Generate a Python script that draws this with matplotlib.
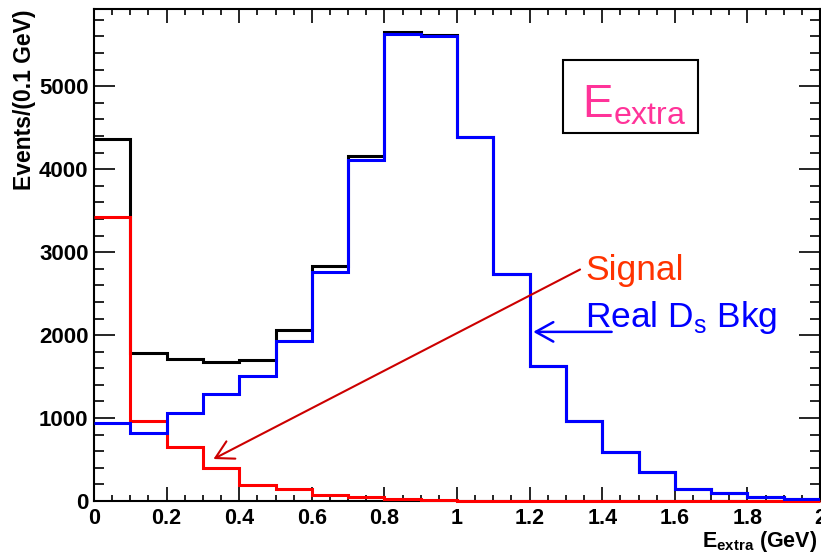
import numpy as np
import matplotlib
matplotlib.use('Agg')
import matplotlib.pyplot as plt
from matplotlib.patches import Rectangle
from matplotlib.ticker import MultipleLocator

plt.rcParams['font.family'] = ['Liberation Sans', 'DejaVu Sans']
plt.rcParams['mathtext.fontset'] = 'custom'
plt.rcParams['mathtext.rm'] = 'Liberation Sans'
plt.rcParams['mathtext.bf'] = 'Liberation Sans:bold'

# E_extra histograms, 0.1 GeV bins from 0 to 2 GeV
bin_edges = np.linspace(0, 2, 21)
total = [4360, 1790, 1710, 1680, 1700, 2060, 2835, 4157, 5654, 5618,
         4390, 2731, 1627, 968, 586, 349, 148, 92, 44, 20]
real_ds = [935, 823, 1057, 1285, 1506, 1928, 2760, 4117, 5635, 5606,
           4389, 2731, 1627, 968, 586, 349, 148, 92, 44, 20]
signal = [3425, 967, 654, 394, 193, 141, 72, 48, 22, 12,
          4, 0, 0, 0, 0, 0, 0, 0, 0, 0]

x_ticks = [0, 0.2, 0.4, 0.6, 0.8, 1.0, 1.2, 1.4, 1.6, 1.8, 2.0]
x_tick_labels = ['0', '0.2', '0.4', '0.6', '0.8', '1', '1.2', '1.4', '1.6', '1.8', '2']
y_ticks = [0, 1000, 2000, 3000, 4000, 5000]
y_tick_labels = ['0', '1000', '2000', '3000', '4000', '5000']

fig = plt.figure(figsize=(8.21, 5.53), dpi=100)
ax = fig.add_axes([94 / 821, 52 / 553, 726 / 821, 492.3 / 553])

ax.stairs(total, bin_edges, color='black', lw=2.2, baseline=None, zorder=3)
ax.stairs(signal, bin_edges, color='#ff0000', lw=2.2, baseline=None,
          zorder=3.2, clip_on=False)
ax.stairs(real_ds, bin_edges, color='#0000ff', lw=2.2, baseline=None, zorder=3.4)

ax.set_xlim(0, 2)
ax.set_ylim(0, 5935)

ax.set_xticks(x_ticks)
ax.set_xticklabels(x_tick_labels, fontweight='bold', fontsize=15.5)
ax.set_yticks(y_ticks)
ax.set_yticklabels(y_tick_labels, fontweight='bold', fontsize=16)
ax.xaxis.set_minor_locator(MultipleLocator(0.05))
ax.yaxis.set_minor_locator(MultipleLocator(200))
ax.tick_params(which='both', direction='in', top=True, right=True, width=1.2)
ax.tick_params(axis='x', which='major', length=10, pad=5)
ax.tick_params(axis='x', which='minor', length=4.5)
ax.tick_params(axis='y', which='major', length=15, pad=4)
ax.tick_params(axis='y', which='minor', length=7.5)
for s in ax.spines.values():
    s.set_linewidth(1.5)

# axis titles
fig.text(24 / 821, 1 - 10 / 553, 'Events/(0.1 GeV)', rotation=90,
         ha='center', va='top', fontsize=16.5, fontweight='bold')
fig.text(817 / 821, 6 / 553, r'$\mathbf{E_{extra}}$ (GeV)',
         ha='right', va='baseline', fontsize=15.5, fontweight='bold')

# labelled box
ax.add_patch(Rectangle((1.293, 4436), 0.372, 876, facecolor='white',
                       edgecolor='black', lw=1.5, zorder=4))
ax.text(1.345, 4629, r'$\mathregular{E_{extra}}$', color='#ff3399',
        fontsize=33, ha='left', va='baseline', zorder=5)

# curve labels with arrows
ax.text(1.353, 2662, 'Signal', color='#ff3300', fontsize=25.5,
        ha='left', va='baseline', zorder=5)
ax.text(1.353, 2100, r'Real D$_{\mathregular{s}}$ Bkg', color='#0000ff',
        fontsize=25.5, ha='left', va='baseline', zorder=5)
ax.annotate('', xy=(0.329, 506), xytext=(1.339, 2791),
            arrowprops=dict(arrowstyle='->,head_length=0.9,head_width=0.5',
                            color='#cc0000', lw=1.5, shrinkA=0, shrinkB=0,
                            mutation_scale=14), zorder=5)
ax.annotate('', xy=(1.210, 2039), xytext=(1.426, 2039),
            arrowprops=dict(arrowstyle='->,head_length=0.9,head_width=0.5',
                            color='#0000ff', lw=1.8, shrinkA=0, shrinkB=0,
                            mutation_scale=14), zorder=5)

fig.savefig('out.png', dpi=100)
